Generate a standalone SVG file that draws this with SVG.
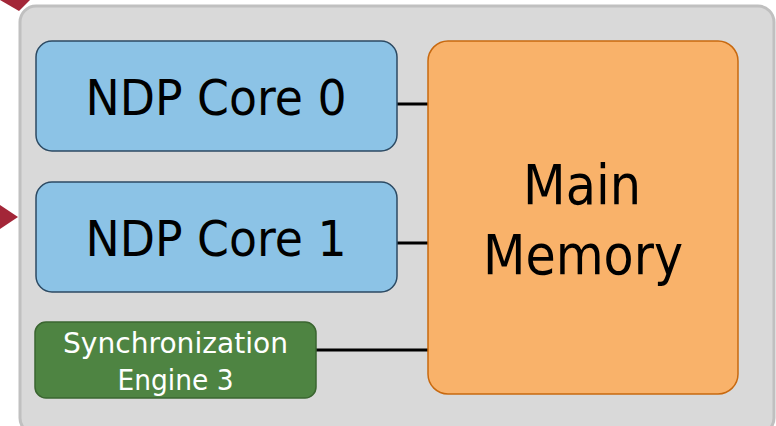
<svg xmlns="http://www.w3.org/2000/svg" width="776" height="426" viewBox="0 0 776 426">
<style>
text{font-family:"DejaVu Sans","Liberation Sans",sans-serif;text-anchor:middle}
.core rect{fill:#8cc3e6;stroke:#2c4a63;stroke-width:1.5}
.core text{font-size:49px;fill:#000}
.conn line{stroke:#000;stroke-width:3}
</style>
<polygon points="0,0 30,0 19,11" fill="#a32638"/>
<polygon points="0,205 18,217 0,229" fill="#a32638"/>
<rect x="20" y="6" width="754" height="428" rx="16" fill="#d9d9d9" stroke="#c0c0c0" stroke-width="3"/>
<g class="conn" id="connectors">
<line x1="396" y1="104" x2="429" y2="104"/>
<line x1="396" y1="243" x2="429" y2="243"/>
<line x1="315" y1="350" x2="429" y2="350"/>
</g>
<g id="core0" class="core">
<rect x="36" y="41" width="361" height="110" rx="16"/>
<text x="216" y="115" textLength="261" lengthAdjust="spacingAndGlyphs">NDP Core 0</text>
</g>
<g id="core1" class="core">
<rect x="36" y="182" width="361" height="110" rx="16"/>
<text x="216" y="256" textLength="261" lengthAdjust="spacingAndGlyphs">NDP Core 1</text>
</g>
<g id="sync">
<rect x="35" y="322" width="281" height="76" rx="11" fill="#4e8442" stroke="#3a6530" stroke-width="1.5"/>
<text x="175.5" y="353" font-size="29" fill="#fff" textLength="225" lengthAdjust="spacingAndGlyphs">Synchronization</text>
<text x="175.5" y="390" font-size="29" fill="#fff" textLength="116" lengthAdjust="spacingAndGlyphs">Engine 3</text>
</g>
<g id="memory">
<rect x="428" y="41" width="310" height="353" rx="20" fill="#f9b26a" stroke="#c8690f" stroke-width="1.5"/>
<text x="582" y="204" font-size="55" textLength="118" lengthAdjust="spacingAndGlyphs">Main</text>
<text x="583" y="274" font-size="55" textLength="200" lengthAdjust="spacingAndGlyphs">Memory</text>
</g>
</svg>
